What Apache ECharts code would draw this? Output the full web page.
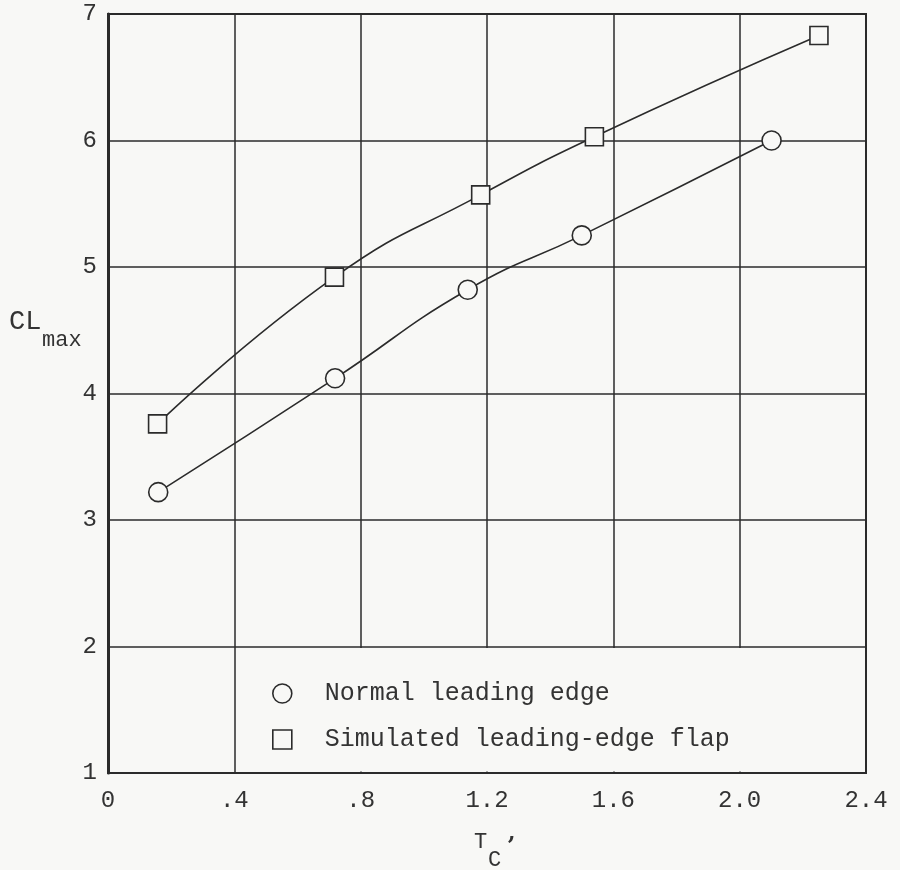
<!DOCTYPE html>
<html>
<head>
<meta charset="utf-8">
<script src="https://cdn.jsdelivr.net/npm/echarts@6/dist/echarts.min.js"></script>
<style>
  html, body { margin: 0; padding: 0; background: #f8f8f6; }
  #chart { width: 900px; height: 870px; }
</style>
</head>
<body>
<div id="chart"></div>
<script>
// Maximum lift coefficient vs thrust coefficient
const normalTc   = [0.159, 0.719, 1.139, 1.500, 2.101];
const normalCl   = [3.22, 4.12, 4.82, 5.25, 6.00];
const flapTc     = [0.157, 0.717, 1.180, 1.540, 2.251];
const flapCl     = [3.76, 4.92, 5.57, 6.03, 6.83];
const seriesNames = ['Normal leading edge', 'Simulated leading-edge flap'];
const xTickText = { 0: '0', 0.4: '.4', 0.8: '.8', 1.2: '1.2', 1.6: '1.6', 2: '2.0', 2.4: '2.4' };

const ink = '#2b2b2b';
const textInk = '#333333';
const paper = '#f8f8f6';
const typeFont = '"Liberation Mono", "DejaVu Sans Mono", monospace';

const pairs = (xs, ys) => xs.map((x, i) => [x, ys[i]]);

const chart = echarts.init(document.getElementById('chart'), null, { renderer: 'canvas' });

const markerStyle = { color: paper, borderColor: ink, borderWidth: 1.6 };
const legendIconStyle = { color: 'transparent', borderColor: ink, borderWidth: 1.6 };

// axis title pieces placed individually (main letter, subscript, prime)
const label = (x, y, text, font, extra) => ({
  type: 'text', x, y, silent: true,
  style: Object.assign({
    text, fill: textInk, font,
    verticalAlign: 'middle', align: 'left'
  }, extra || {})
});

chart.setOption({
  backgroundColor: paper,
  animation: false,
  grid: {
    left: 108, right: 34, top: 14, bottom: 97,
    show: true, borderColor: ink, borderWidth: 2, backgroundColor: 'transparent'
  },
  xAxis: {
    type: 'value', min: 0, max: 2.4, interval: 0.4,
    axisLine: { show: true, lineStyle: { color: ink, width: 2 } },
    axisTick: { show: false },
    splitLine: { show: true, lineStyle: { color: ink, width: 1.5 } },
    axisLabel: {
      margin: 16, color: textInk, fontFamily: typeFont, fontSize: 24,
      formatter: v => xTickText[Math.round(v * 10) / 10] ?? String(v)
    }
  },
  yAxis: {
    type: 'value', min: 1, max: 7, interval: 1,
    axisLine: { show: true, lineStyle: { color: ink, width: 3 } },
    axisTick: { show: false },
    splitLine: { show: true, lineStyle: { color: ink, width: 1.5 } },
    axisLabel: { margin: 11, color: textInk, fontFamily: typeFont, fontSize: 24 }
  },
  legend: {
    orient: 'vertical', left: 267, top: 676, itemGap: 21,
    itemWidth: 19, itemHeight: 19,
    textStyle: { color: textInk, fontFamily: typeFont, fontSize: 25, padding: [0, 0, 0, 28] },
    data: [
      { name: seriesNames[0], icon: 'circle', itemStyle: legendIconStyle },
      { name: seriesNames[1], icon: 'rect', itemStyle: legendIconStyle }
    ]
  },
  graphic: [
    label(9, 322, 'CL', '27px ' + typeFont),
    label(42, 340, 'max', '22px ' + typeFont),
    label(474, 842, 'T', '22px ' + typeFont),
    label(488, 860, 'C', '22px ' + typeFont),
    label(507, 848, '\u2019', 'bold 24px "DejaVu Serif", serif')
  ],
  series: [
    {
      name: seriesNames[0], type: 'line', smooth: 0.5,
      data: pairs(normalTc, normalCl),
      symbol: 'circle', symbolSize: 19,
      itemStyle: markerStyle,
      lineStyle: { color: ink, width: 1.6 },
      z: 3,
      // clear box holding the key in the lower part of the plot
      markArea: {
        silent: true,
        itemStyle: { color: paper },
        data: [[{ coord: [0.407, 1.012] }, { coord: [2.393, 1.988] }]]
      }
    },
    {
      name: seriesNames[1], type: 'line', smooth: 0.5,
      data: pairs(flapTc, flapCl),
      symbol: 'rect', symbolSize: 18,
      itemStyle: markerStyle,
      lineStyle: { color: ink, width: 1.6 },
      z: 3
    }
  ]
});
</script>
</body>
</html>
